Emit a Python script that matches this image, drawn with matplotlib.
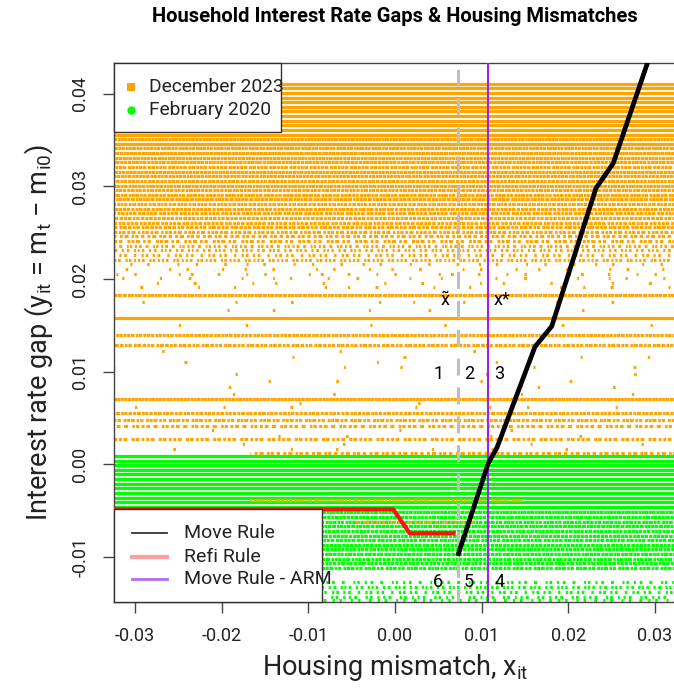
import matplotlib
matplotlib.use("Agg")
import matplotlib.pyplot as plt
from matplotlib import font_manager
from matplotlib.lines import Line2D
from matplotlib.patches import Rectangle

# ---------------- data ----------------
# December 2023 rate-gap levels (y) and how densely each row is filled
orange_y = [0.0411, 0.0406, 0.0401, 0.0396, 0.0391, 0.0386, 0.0381, 0.0376, 0.0371,
            0.0366, 0.0361, 0.0356, 0.0351, 0.0346, 0.0341, 0.0336, 0.0331,
            0.0326, 0.0321, 0.0316, 0.0311, 0.0306, 0.0301, 0.0296, 0.0291,
            0.0286, 0.0281, 0.0276, 0.0271, 0.0266, 0.0261, 0.0256, 0.0251,
            0.0246, 0.0241, 0.0236, 0.0231, 0.0226, 0.0221, 0.0216, 0.0211,
            0.0206, 0.0201, 0.0196, 0.0191, 0.0183, 0.0175, 0.0167, 0.0158,
            0.0150, 0.0140, 0.0129, 0.0122, 0.0116, 0.0110, 0.0105, 0.0097,
            0.0090, 0.0083, 0.0076, 0.0070, 0.0066, 0.0062, 0.0055, 0.0048,
            0.0041, 0.0037, 0.0031, 0.0027, 0.0022, 0.0017]
orange_dens = [0.97, 0.98, 0.97, 0.98, 0.96, 0.98, 0.97, 0.95, 0.98,
               0.97, 0.96, 0.98, 0.92, 0.95, 0.90, 0.93, 0.90,
               0.88, 0.80, 0.90, 0.86, 0.84, 0.88, 0.85, 0.82,
               0.86, 0.80, 0.84, 0.78, 0.80, 0.74, 0.76, 0.68,
               0.62, 0.56, 0.50, 0.45, 0.40, 0.50, 0.12, 0.08,
               0.10, 0.07, 0.06, 0.05, 0.85, 0.04, 0.03, 0.95,
               0.03, 0.80, 0.75, 0.015, 0.02, 0.015, 0.02, 0.015,
               0.02, 0.015, 0.02, 0.90, 0.015, 0.03, 0.80, 0.70,
               0.60, 0.02, 0.02, 0.60, 0.02, 0.03]

# December 2023 rows that only appear over part of the x range
orange_part_y = [0.0012, -0.0039, -0.0062]
orange_part_x0 = [-0.0167, -0.0167, -0.0050]
orange_part_x1 = [0.0324, 0.0148, 0.0094]
orange_part_dens = [0.6, 0.8, 0.5]

# February 2020 rate-gap levels and densities
green_y = [0.0009, 0.0004, -0.0001, -0.0006, -0.0011, -0.0016, -0.0021, -0.0026,
           -0.0031, -0.0036, -0.0041, -0.0046, -0.0052, -0.0057, -0.0062, -0.0067,
           -0.0072, -0.0077, -0.0082, -0.0087, -0.0092, -0.0097, -0.0102, -0.0107,
           -0.0112, -0.0127, -0.0133, -0.0138, -0.0143, -0.0147]
green_dens = [0.98, 0.97, 0.98, 0.96, 0.98, 0.97, 0.95, 0.98,
              0.96, 0.97, 0.95, 0.96, 0.90, 0.85, 0.80, 0.88,
              0.82, 0.85, 0.78, 0.84, 0.80, 0.85, 0.78, 0.80,
              0.75, 0.35, 0.45, 0.40, 0.35, 0.30]

# policy rules
move_x = [0.00724, 0.01077, 0.01178, 0.01617, 0.01810, 0.02320, 0.02520, 0.02914, 0.0300]
move_y = [-0.0099, 0.0001, 0.0018, 0.0127, 0.0149, 0.0298, 0.0325, 0.0433, 0.0460]
refi_x = [-0.0400, -0.0002, 0.0017, 0.0070]
refi_y = [-0.00486, -0.00486, -0.00745, -0.00745]
x_tilde = 0.00724
x_star = 0.01078

xticks = [-0.03, -0.02, -0.01, 0.00, 0.01, 0.02, 0.03]
xtick_labels = ["-0.03", "-0.02", "-0.01", "0.00", "0.01", "0.02", "0.03"]
yticks = [-0.01, 0.00, 0.01, 0.02, 0.03, 0.04]
ytick_labels = ["-0.01", "0.00", "0.01", "0.02", "0.03", "0.04"]

region_labels = ["1", "2", "3", "6", "5", "4"]
region_x = [0.0050, 0.0086, 0.0120, 0.0050, 0.0085, 0.0121]
region_y = [0.0098, 0.0098, 0.0098, -0.0127, -0.0127, -0.0127]

# ---------------- fonts ----------------
names = {f.name for f in font_manager.fontManager.ttflist}
FAM = "Roboto" if "Roboto" in names else "DejaVu Sans"
plt.rcParams["font.family"] = [FAM, "DejaVu Sans"]
plt.rcParams["mathtext.fontset"] = "custom"
plt.rcParams["mathtext.rm"] = FAM
plt.rcParams["mathtext.it"] = FAM
plt.rcParams["lines.scale_dashes"] = False

W, H = 674, 693
fig = plt.figure(figsize=(W / 100, H / 100), dpi=100)
L, R, T, B = 114.3, 675.6, 63.3, 601.7
ax = fig.add_axes([L / W, 1 - B / H, (R - L) / W, (B - T) / H])
XLIM = (-0.0324, 0.0324)
YLIM = (-0.01484, 0.0433)
ax.set_xlim(*XLIM)
ax.set_ylim(*YLIM)

ORANGE = "#FFA500"
GREEN = "#00FF00"
LW = 2.3
gap_var = [1.0, 1.6, 0.6, 1.3, 0.8, 2.1, 0.5, 1.2, 0.9, 1.7]


def row(y, d, x0, x1, color, idx, z):
    if d >= 0.95:
        ls = "-"
    else:
        on = 2.2 if d > 0.5 else 1.6
        off = on * (1 - d) / d
        pat = []
        for k in range(5):
            g = gap_var[(idx * 3 + k) % len(gap_var)]
            pat += [on * (0.7 + 0.3 * gap_var[(idx + k) % len(gap_var)]), off * g]
        ls = ((idx * 7.3) % 20, tuple(pat))
    ax.plot([x0, x1], [y, y], color=color, lw=LW, ls=ls, solid_capstyle="butt",
            dash_capstyle="butt", zorder=z)


for i, (y, d) in enumerate(zip(green_y, green_dens)):
    row(y, d, XLIM[0], XLIM[1], GREEN, i, 1)
for i, (y, d) in enumerate(zip(orange_y, orange_dens)):
    row(y, d, XLIM[0], XLIM[1], ORANGE, i, 2)
for i, (y, x0, x1, d) in enumerate(zip(orange_part_y, orange_part_x0, orange_part_x1, orange_part_dens)):
    row(y, d, x0, x1, ORANGE, i + 3, 2)

# reference lines
ax.axvline(x_tilde, color="#BEBEBE", lw=2.2, ls=(3, (12.2, 8.6)), zorder=3)
ax.axvline(x_star, color="#A020F0", lw=1.5, zorder=4)
ax.plot(refi_x, refi_y, color="#FF1010", lw=3.0, zorder=5, solid_capstyle="butt")
ax.plot(move_x, move_y, color="black", lw=3.4, zorder=6, solid_capstyle="butt")

fs_small = 13
ax.text(0.0058, 0.0177, r"$\tilde{\mathrm{x}}$", fontsize=fs_small, ha="center", va="center", zorder=7)
ax.text(0.0123, 0.0177, "x*", fontsize=fs_small, ha="center", va="center", zorder=7)
for t, xx, yy in zip(region_labels, region_x, region_y):
    ax.text(xx, yy, t, fontsize=fs_small, ha="center", va="center", zorder=7)

# axes style
for sp in ax.spines.values():
    sp.set_color("#444444")
    sp.set_linewidth(1.0)
ax.set_xticks(xticks)
ax.set_xticklabels(xtick_labels)
ax.set_yticks(yticks)
ax.set_yticklabels(ytick_labels, rotation=90, va="center")
ax.tick_params(axis="both", direction="out", length=8, width=1.0, color="#444444",
               labelsize=13, pad=10, labelcolor="#222222")

ax.set_xlabel(r"Housing mismatch, $\mathrm{x_{it}}$", fontsize=19.5, labelpad=5, color="#222222")
ax.set_ylabel(r"Interest rate gap ($\mathrm{y_{it}}$ = $\mathrm{m_t}$ $-$ $\mathrm{m_{i0}}$)",
              fontsize=19.5, labelpad=12, color="#222222")
fig.text(395 / W, 1 - 16 / H, "Household Interest Rate Gaps & Housing Mismatches",
         fontsize=14.5, fontweight="bold", ha="center", va="center")


def axp(px, py):
    return ((px - L) / (R - L), (B - py) / (B - T))


# legend 1 (samples)
x0, y1 = axp(114.3, 63.3)
x1, y0 = axp(281.0, 132.3)
ax.add_patch(Rectangle((x0, y0), x1 - x0, y1 - y0, transform=ax.transAxes, facecolor="white",
                       edgecolor="#333333", lw=1.0, zorder=10, clip_on=False))
leg1_labels = ["December 2023", "February 2020"]
leg1_colors = [ORANGE, GREEN]
leg1_markers = ["s", "o"]
leg1_rows = [87.3, 110.0]
for lab, c, m, py in zip(leg1_labels, leg1_colors, leg1_markers, leg1_rows):
    mx, my = axp(130.7, py)
    ax.add_line(Line2D([mx], [my], marker=m, markersize=6, color=c, transform=ax.transAxes,
                       zorder=11, clip_on=False, markeredgewidth=0))
    tx, ty = axp(149.3, py)
    ax.text(tx, ty, lab, transform=ax.transAxes, fontsize=13.8, va="center", ha="left",
            zorder=11, color="#222222")

# legend 2 (rules)
x0, y1 = axp(114.3, 509.3)
x1, y0 = axp(322.3, 601.7)
ax.add_patch(Rectangle((x0, y0), x1 - x0, y1 - y0, transform=ax.transAxes, facecolor="white",
                       edgecolor="#333333", lw=1.0, zorder=10, clip_on=False))
leg2_labels = ["Move Rule", "Refi Rule", "Move Rule - ARM"]
leg2_colors = ["#333333", "#FF9E9E", "#B06EF0"]
leg2_lw = [1.3, 3.0, 2.0]
leg2_rows = [533.3, 556.7, 579.3]
for lab, c, lw, py in zip(leg2_labels, leg2_colors, leg2_lw, leg2_rows):
    ax0, ay = axp(131.7, py)
    ax1, _ = axp(166.7, py)
    ax.add_line(Line2D([ax0, ax1], [ay, ay], color=c, lw=lw, transform=ax.transAxes,
                       zorder=11, clip_on=False))
    tx, ty = axp(184.0, py)
    ax.text(tx, ty, lab, transform=ax.transAxes, fontsize=14, va="center", ha="left",
            zorder=11, color="#222222")

fig.savefig("out.png", dpi=100)
